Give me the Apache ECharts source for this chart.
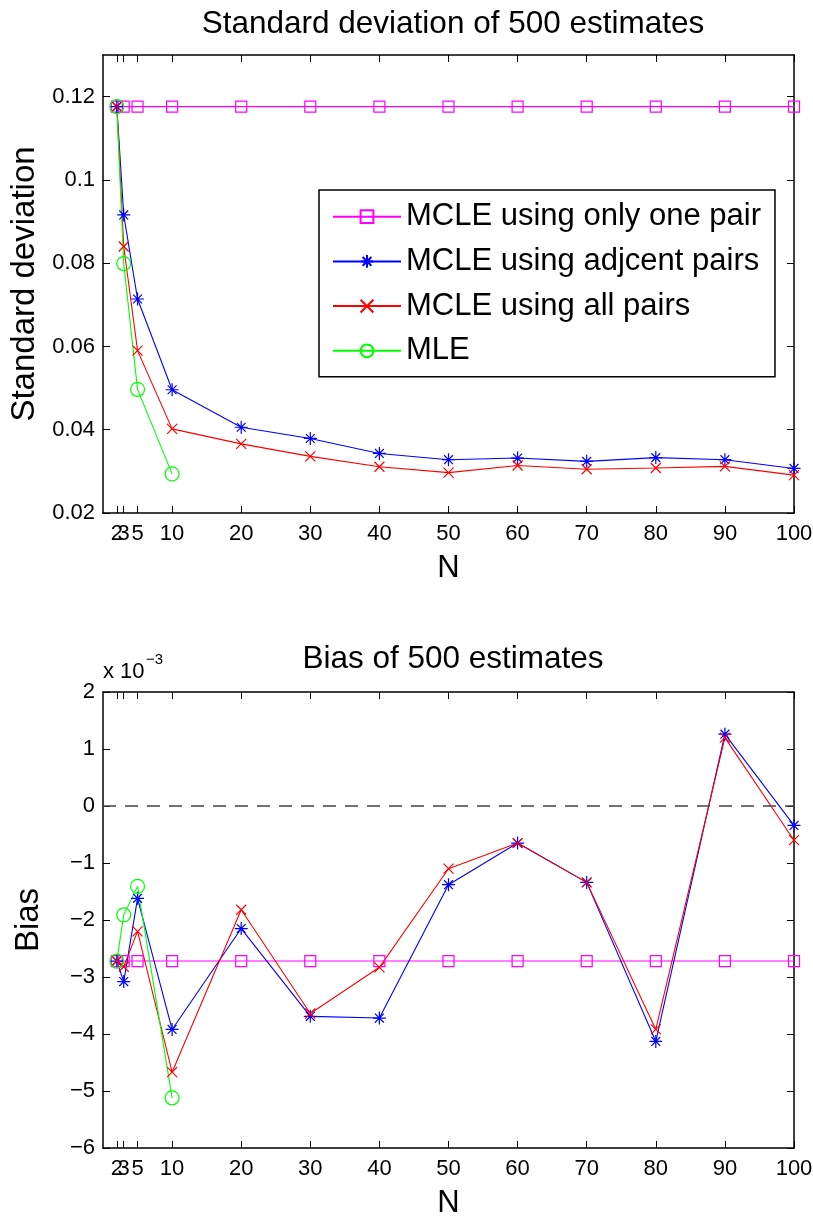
<!DOCTYPE html>
<html>
<head>
<meta charset="utf-8">
<script src="https://cdn.jsdelivr.net/npm/echarts@6/dist/echarts.min.js"></script>
<style>
  html, body { margin: 0; padding: 0; background: #fff; }
  #container { width: 813px; height: 1216px; }
</style>
</head>
<body>
<div id="container"></div>
<script>
var FONT = 'Liberation Sans';

// N values (x axis) and tick labels
var nValues = [2, 3, 5, 10, 20, 30, 40, 50, 60, 70, 80, 90, 100];
var nTicks = [2, 3, 5, 10, 20, 30, 40, 50, 60, 70, 80, 90, 100];
// "3" sits on top of "2"; it is drawn by an overlay axis so echarts does not drop it
var nTicksMain = [2, 5, 10, 20, 30, 40, 50, 60, 70, 80, 90, 100];
var nTicksOverlay = [3];
var nMLE = [2, 3, 5, 10];

// standard deviation of 500 estimates
var sdOnePair = [0.1176, 0.1176, 0.1176, 0.1176, 0.1176, 0.1176, 0.1176, 0.1176, 0.1176, 0.1176, 0.1176, 0.1176, 0.1176];
var sdAdjacent = [0.1176, 0.0916, 0.0714, 0.0496, 0.0406, 0.0379, 0.0343, 0.0328, 0.0332, 0.0324, 0.0333, 0.0328, 0.0307];
var sdAllPairs = [0.1176, 0.0840, 0.0590, 0.0402, 0.0366, 0.0336, 0.0311, 0.0297, 0.0314, 0.0305, 0.0308, 0.0312, 0.0291];
var sdMLE = [0.1176, 0.0799, 0.0497, 0.0294];
var sdTicks = [0.02, 0.04, 0.06, 0.08, 0.1, 0.12];

// bias of 500 estimates, in units of 10^-3
var biasOnePair = [-2.72, -2.72, -2.72, -2.72, -2.72, -2.72, -2.72, -2.72, -2.72, -2.72, -2.72, -2.72, -2.72];
var biasAdjacent = [-2.72, -3.08, -1.62, -3.92, -2.15, -3.69, -3.72, -1.38, -0.65, -1.34, -4.13, 1.26, -0.34];
var biasAllPairs = [-2.72, -2.82, -2.20, -4.67, -1.82, -3.64, -2.83, -1.10, -0.65, -1.34, -3.92, 1.20, -0.60];
var biasMLE = [-2.72, -1.91, -1.41, -5.12];
var biasTicks = [-6, -5, -4, -3, -2, -1, 0, 1, 2];
var biasZeroLine = 0;

var names = ['MCLE using only one pair', 'MCLE using adjcent pairs', 'MCLE using all pairs', 'MLE'];

var STAR = 'path://M5 0L5 10M0 5L10 5M1.6 1.6L8.4 8.4M8.4 1.6L1.6 8.4';
var CROSS = 'path://M0 0L10 10M10 0L0 10';

function pairs(xs, ys) {
    return xs.map(function (x, i) { return [x, ys[i]]; });
}

function makeSeries(name, color, symbol, size, hollow, xs, ys, axisIdx) {
    return {
        name: name,
        type: 'line',
        xAxisIndex: axisIdx,
        yAxisIndex: axisIdx,
        data: pairs(xs, ys),
        symbol: symbol,
        symbolSize: size,
        showSymbol: true,
        showAllSymbol: true,
        lineStyle: { color: color, width: 1.1 },
        itemStyle: {
            color: hollow ? 'rgba(0,0,0,0)' : color,
            borderColor: color,
            borderWidth: 1.2
        },
        emphasis: { disabled: true },
        animation: false
    };
}

function xAxes(gridIndex) {
    var line = { onZero: false, lineStyle: { color: '#000', width: 1.5 } };
    return [{
        gridIndex: gridIndex, type: 'value', min: 0, max: 100, position: 'bottom',
        axisLine: line,
        axisTick: { inside: true, length: 7, customValues: nTicks, lineStyle: { color: '#000', width: 1 } },
        axisLabel: { customValues: nTicksMain, color: '#000', fontSize: 22, fontFamily: FONT, margin: 10 },
        splitLine: { show: false },
        name: 'N', nameLocation: 'middle', nameGap: 40,
        nameTextStyle: { color: '#000', fontSize: 31, fontFamily: FONT }
    }, {
        gridIndex: gridIndex, type: 'value', min: 0, max: 100, position: 'top',
        axisLine: line,
        axisTick: { inside: true, length: 7, customValues: nTicks, lineStyle: { color: '#000', width: 1 } },
        axisLabel: { show: false },
        splitLine: { show: false }
    }];
}

function yAxes(gridIndex, min, max, ticks, fmt, name) {
    var line = { show: true, onZero: false, lineStyle: { color: '#000', width: 1.5 } };
    return [{
        gridIndex: gridIndex, type: 'value', min: min, max: max, position: 'left',
        axisLine: line,
        axisTick: { show: true, inside: true, length: 7, customValues: ticks, lineStyle: { color: '#000', width: 1 } },
        axisLabel: { customValues: ticks, color: '#000', fontSize: 22, fontFamily: FONT, margin: 8, formatter: fmt },
        splitLine: { show: false },
        name: name, nameLocation: 'middle', nameGap: 58, nameRotate: 90,
        nameTextStyle: { color: '#000', fontSize: 33, fontFamily: FONT }
    }, {
        gridIndex: gridIndex, type: 'value', min: min, max: max, position: 'right',
        axisLine: line,
        axisTick: { show: true, inside: true, length: 7, customValues: ticks, lineStyle: { color: '#000', width: 1 } },
        axisLabel: { show: false },
        splitLine: { show: false }
    }];
}

// overlay grid: only the "3" tick label
function overlayX(gridIndex) {
    return {
        gridIndex: gridIndex, type: 'value', min: 0, max: 100, position: 'bottom',
        axisLine: { show: false, onZero: false },
        axisTick: { show: false },
        axisLabel: { customValues: nTicksOverlay, color: '#000', fontSize: 22, fontFamily: FONT, margin: 10 },
        splitLine: { show: false }
    };
}

function overlayY(gridIndex) {
    return { gridIndex: gridIndex, type: 'value', show: false, min: 0, max: 1, splitLine: { show: false } };
}

var chart = echarts.init(document.getElementById('container'));

var option = {
    backgroundColor: '#fff',
    animation: false,
    title: [{
        text: 'Standard deviation of 500 estimates',
        left: 448, top: 3, textAlign: 'center',
        textStyle: { fontSize: 31.5, fontWeight: 'normal', color: '#000', fontFamily: FONT }
    }, {
        text: 'Bias of 500 estimates',
        left: 448, top: 638, textAlign: 'center',
        textStyle: { fontSize: 31.5, fontWeight: 'normal', color: '#000', fontFamily: FONT }
    }],
    graphic: [{
        type: 'text', left: 103, top: 661,
        style: { text: 'x 10', fill: '#000', font: '22px ' + FONT }
    }, {
        type: 'text', left: 146, top: 652,
        style: { text: '\u22123', fill: '#000', font: '15px ' + FONT }
    }],
    legend: {
        data: names,
        orient: 'vertical',
        left: 319, top: 190,
        itemWidth: 68, itemHeight: 16, itemGap: 8.7,
        padding: [8.7, 14, 8, 13],
        borderColor: '#000', borderWidth: 1.5,
        backgroundColor: '#fff',
        selectedMode: false,
        textStyle: { fontSize: 31, lineHeight: 36, color: '#000', fontFamily: FONT }
    },
    grid: [
        { left: 103, right: 19, top: 55, height: 458, outerBoundsMode: 'none' },
        { left: 103, right: 19, top: 692, height: 456, outerBoundsMode: 'none' },
        { left: 103, right: 19, top: 55, height: 458, outerBoundsMode: 'none' },
        { left: 103, right: 19, top: 692, height: 456, outerBoundsMode: 'none' }
    ],
    xAxis: xAxes(0).concat(xAxes(1)).concat([overlayX(2), overlayX(3)]),
    yAxis: yAxes(0, 0.02, 0.13, sdTicks, function (v) { return String(+v.toFixed(2)); }, 'Standard deviation')
        .concat(yAxes(1, -6, 2, biasTicks, function (v) { return String(v).replace('-', '\u2212'); }, 'Bias'))
        .concat([overlayY(2), overlayY(3)]),
    series: [
        makeSeries(names[0], '#ff00ff', 'rect', 11, true, nValues, sdOnePair, 0),
        makeSeries(names[1], '#0000ff', STAR, 13, false, nValues, sdAdjacent, 0),
        makeSeries(names[2], '#ff0000', CROSS, 10, false, nValues, sdAllPairs, 0),
        makeSeries(names[3], '#00ff00', 'circle', 14, true, nMLE, sdMLE, 0),
        makeSeries(names[0], '#ff00ff', 'rect', 11, true, nValues, biasOnePair, 2),
        makeSeries(names[1], '#0000ff', STAR, 13, false, nValues, biasAdjacent, 2),
        makeSeries(names[2], '#ff0000', CROSS, 10, false, nValues, biasAllPairs, 2),
        makeSeries(names[3], '#00ff00', 'circle', 14, true, nMLE, biasMLE, 2),
        {
            type: 'line', xAxisIndex: 2, yAxisIndex: 2, data: [],
            silent: true, animation: false,
            markLine: {
                silent: true, symbol: 'none', animation: false,
                label: { show: false },
                lineStyle: { color: '#444', width: 1.5, type: [13, 9] },
                data: [{ yAxis: biasZeroLine }]
            },
            z: 1
        }
    ]
};

chart.setOption(option);
</script>
</body>
</html>
